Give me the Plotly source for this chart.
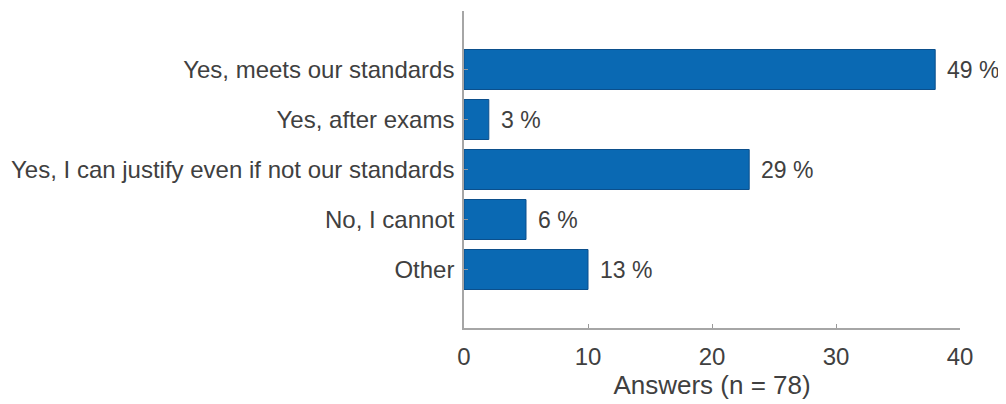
import plotly.graph_objects as go

categories = ["Yes, meets our standards", "Yes, after exams",
              "Yes, I can justify even if not our standards", "No, I cannot", "Other"]
counts = [38, 2, 23, 5, 10]
percent_labels = ["49 %", "3 %", "29 %", "6 %", "13 %"]
x_ticks = [0, 10, 20, 30, 40]

pos = list(range(len(categories)))
family = "Liberation Sans, Arial, sans-serif"
font = dict(family=family, size=24, color="#404040")

fig = go.Figure()
fig.add_trace(go.Bar(
    x=counts, y=pos, orientation="h", width=0.8,
    marker=dict(color="#0a69b3", line=dict(color="#0b4f8c", width=1)),
    hoverinfo="skip",
))
for c, p, t in zip(counts, pos, percent_labels):
    fig.add_annotation(x=c, y=p, text=t, showarrow=False, xanchor="left",
                       xshift=10, font=dict(family=family, size=23, color="#404040"))

fig.update_layout(
    width=1006, height=404,
    margin=dict(l=453, r=54, t=3, b=84),
    paper_bgcolor="white", plot_bgcolor="white",
    showlegend=False, font=font,
)
fig.update_xaxes(
    range=[0, 40], tickvals=x_ticks, ticktext=[str(v) for v in x_ticks],
    ticks="inside", ticklen=4, tickcolor="#999999",
    showline=True, linecolor="#a6a6a6", linewidth=1.5,
    showgrid=False, zeroline=False, ticklabelstandoff=6,
    title=dict(text="Answers (n = 78)", standoff=2,
               font=dict(family=family, size=26, color="#404040")),
    tickfont=font,
)
fig.update_yaxes(
    range=[5.17, -1.17], tickvals=pos, ticktext=categories,
    ticks="inside", ticklen=4, tickcolor="#999999",
    showline=True, linecolor="#a6a6a6", linewidth=1.5,
    showgrid=False, zeroline=False, tickfont=font, ticklabelstandoff=3,
)
fig.write_html("out.html")
